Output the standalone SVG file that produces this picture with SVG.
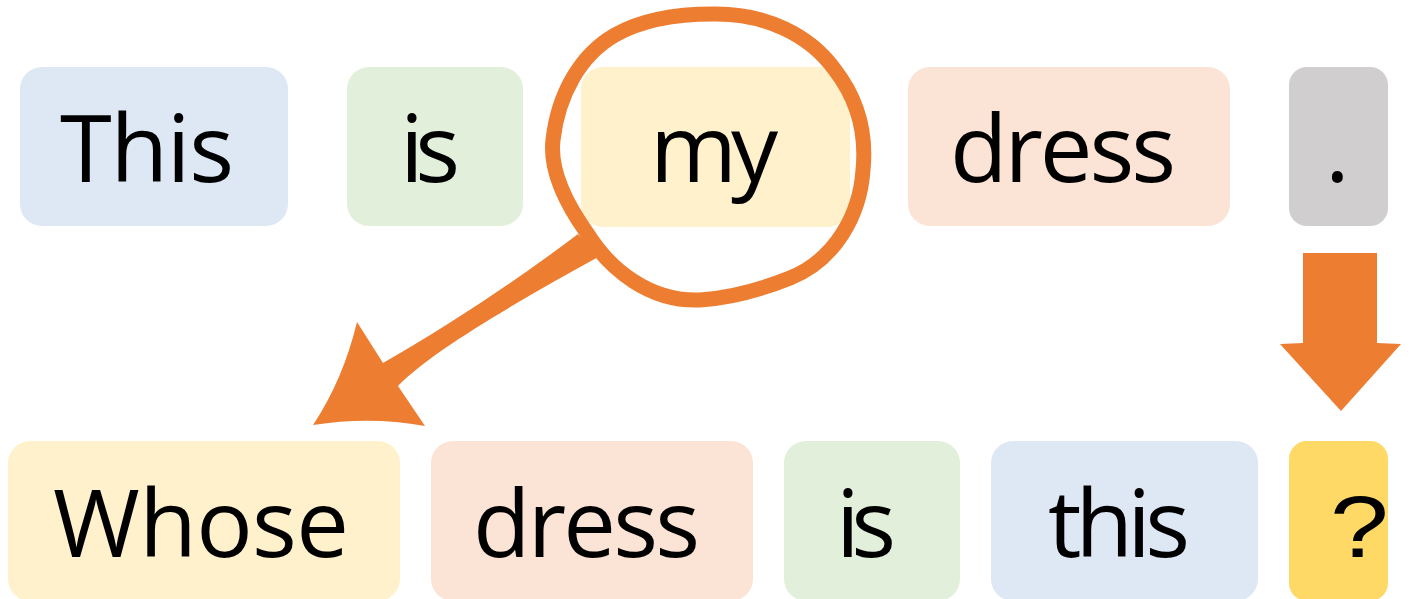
<svg xmlns="http://www.w3.org/2000/svg" width="1412" height="599" viewBox="0 0 1412 599">
<style>
.t{font-family:"Open Sans","Noto Sans","Liberation Sans",sans-serif;font-size:94px;fill:#000}
.q{font-family:"Liberation Sans",Arial,sans-serif;font-size:88px;fill:#000}
.blue{fill:#dee8f5}.green{fill:#e2efda}.yellow{fill:#fff1cc}.peach{fill:#fbe4d6}.gray{fill:#d0cece}.gold{fill:#ffd966}
.arr{fill:#ed7d31}
</style>
<g id="n-this"><rect class="blue" x="20" y="67" width="268" height="159" rx="22"/><text class="t" x="60" y="182" textLength="174" lengthAdjust="spacing">This</text></g>
<g id="n-is"><rect class="green" x="347" y="67" width="176" height="159" rx="22"/><text class="t" x="400" y="182" textLength="60" lengthAdjust="spacing">is</text></g>
<g id="n-my"><rect class="yellow" x="581" y="67" width="269" height="160" rx="22"/><text class="t" x="650" y="182" textLength="128" lengthAdjust="spacing">my</text></g>
<g id="n-dress"><rect class="peach" x="908" y="67" width="322" height="159" rx="22"/><text class="t" x="950" y="182" textLength="226" lengthAdjust="spacing">dress</text></g>
<g id="n-dot"><rect class="gray" x="1289" y="67" width="99" height="159" rx="18"/><text class="t" x="1325" y="182">.</text></g>
<g id="n-whose"><rect class="yellow" x="8" y="441" width="392" height="160" rx="22"/><text class="t" x="53" y="557" textLength="296" lengthAdjust="spacing">Whose</text></g>
<g id="n-dress2"><rect class="peach" x="431" y="441" width="322" height="160" rx="22"/><text class="t" x="473" y="557" textLength="227" lengthAdjust="spacing">dress</text></g>
<g id="n-is2"><rect class="green" x="784" y="441" width="176" height="160" rx="22"/><text class="t" x="836" y="557" textLength="60" lengthAdjust="spacing">is</text></g>
<g id="n-this2"><rect class="blue" x="991" y="441" width="267" height="160" rx="22"/><text class="t" x="1048" y="557" textLength="142" lengthAdjust="spacing">this</text></g>
<g id="n-q"><rect class="gold" x="1289" y="441" width="99" height="160" rx="18"/><text class="q" x="1330" y="557" transform="translate(1330 557) scale(1.2 1) translate(-1330 -557)">?</text></g>
<g id="connectors">
<path d="M713,14 C765,13 810,35 835,70 C862,105 866,140 863,170 C860,215 835,260 790,278 C760,290 730,298 700,300 C650,302 610,270 587,233 C560,195 550,165 553,140 C558,95 580,55 615,35 C645,18 680,14 713,14 Z" fill="none" stroke="#ed7d31" stroke-width="15"/>
<path class="arr" d="M578,234 C520,278 450,325 383,363 L357,322 Q343,380 313,425 Q370,416 425,426 L398,386 C430,352 520,300 600,256 Z"/>
<path class="arr" d="M1303,253 L1377,253 L1377,343 L1401,344 L1341,411 L1280,344 L1303,343 Z"/>
</g>
</svg>
